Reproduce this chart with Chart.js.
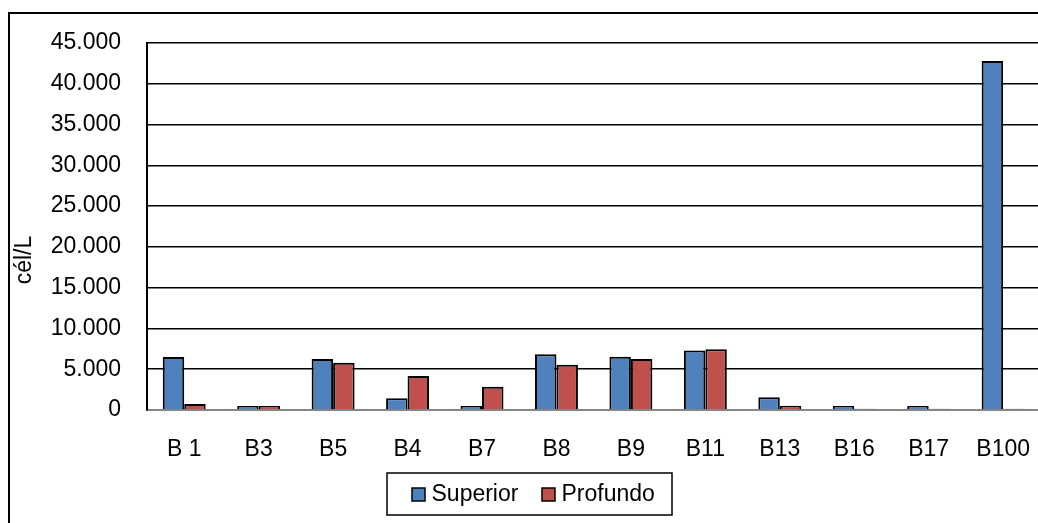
<!DOCTYPE html>
<html>
<head>
<meta charset="utf-8">
<script src="https://cdn.jsdelivr.net/npm/chart.js@4/dist/chart.umd.min.js"></script>
<style>
  html, body { margin: 0; padding: 0; background: #fff; overflow: hidden; }
  #wrap { position: relative; width: 1056px; height: 523px; }
</style>
</head>
<body>
<div id="wrap"><canvas id="c"></canvas></div>
<script>
const categories = ['B 1', 'B3', 'B5', 'B4', 'B7', 'B8', 'B9', 'B11', 'B13', 'B16', 'B17', 'B100'];
const superiorValues = [6500, 500, 6250, 1430, 500, 6830, 6540, 7300, 1550, 500, 500, 42800];
const profundoValues = [740, 500, 5800, 4170, 2860, 5560, 6250, 7440, 530, 150, 150, 150];
const seriesNames = ['Superior', 'Profundo'];
const seriesColors = ['#4F81BD', '#C0504D'];
const yTickLabels = ['0', '5.000', '10.000', '15.000', '20.000', '25.000', '30.000', '35.000', '40.000', '45.000'];
const yAxisTitle = 'cél/L';

const FONT = '"Liberation Sans", Arial, sans-serif';
Chart.defaults.font.family = FONT;
Chart.defaults.font.size = 23;
Chart.defaults.color = '#000';

const decor = {
  id: 'decor',
  afterDraw(chart) {
    const ctx = chart.ctx;
    ctx.save();
    // outer chart border (left and top visible)
    ctx.strokeStyle = '#000';
    ctx.lineWidth = 2;
    ctx.strokeRect(9, 13, 1200, 700);
    // y-axis title
    ctx.font = '23px ' + FONT;
    ctx.fillStyle = '#000';
    ctx.translate(25, 260);
    ctx.rotate(-Math.PI / 2);
    ctx.textAlign = 'center';
    ctx.textBaseline = 'middle';
    ctx.fillText(yAxisTitle, 0, 0);
    ctx.restore();

    // legend
    ctx.save();
    ctx.strokeStyle = '#000';
    ctx.lineWidth = 1.5;
    ctx.strokeRect(387, 473, 285, 42);
    ctx.font = '23px ' + FONT;
    ctx.textBaseline = 'middle';
    ctx.textAlign = 'left';
    const items = [
      { sq: 412, tx: 431.5 },
      { sq: 542, tx: 561.5 }
    ];
    chart.data.datasets.forEach((ds, i) => {
      const it = items[i];
      ctx.fillStyle = ds.backgroundColor;
      ctx.fillRect(it.sq, 488, 13, 13);
      ctx.lineWidth = 1.5;
      ctx.strokeStyle = '#000';
      ctx.strokeRect(it.sq, 488, 13, 13);
      ctx.fillStyle = '#000';
      ctx.fillText(ds.label, it.tx, 494.5);
    });
    ctx.restore();
  }
};

new Chart(document.getElementById('c'), {
  type: 'bar',
  data: {
    labels: categories,
    datasets: [
      { label: seriesNames[0], data: superiorValues, backgroundColor: seriesColors[0], borderColor: '#000', borderWidth: 2 },
      { label: seriesNames[1], data: profundoValues, backgroundColor: seriesColors[1], borderColor: '#000', borderWidth: 2 }
    ]
  },
  options: {
    responsive: true,
    maintainAspectRatio: false,
    animation: false,
    events: [],
    layout: { padding: { top: 43, left: 0, right: 0, bottom: 63 } },
    plugins: { legend: { display: false }, tooltip: { enabled: false } },
    datasets: { bar: { barPercentage: 1, categoryPercentage: 0.577 } },
    scales: {
      x: {
        offset: true,
        grid: { display: false, drawTicks: false },
        border: { display: true, color: '#868686', width: 2 },
        ticks: { padding: 26, maxRotation: 0, autoSkip: false, font: { size: 23 } },
        afterFit(s) { s.height = 50; }
      },
      y: {
        min: 0,
        max: 45000,
        grid: {
          drawTicks: false,
          color: (c) => (c.tick && c.tick.value === 0 ? 'rgba(0,0,0,0)' : '#000'),
          lineWidth: 1.6
        },
        border: { display: true, color: '#000', width: 2 },
        ticks: {
          stepSize: 5000,
          padding: 26,
          font: { size: 23 },
          callback: (v, i) => yTickLabels[i]
        },
        afterFit(s) { s.width = 147; }
      }
    }
  },
  plugins: [decor]
});
</script>
</body>
</html>
